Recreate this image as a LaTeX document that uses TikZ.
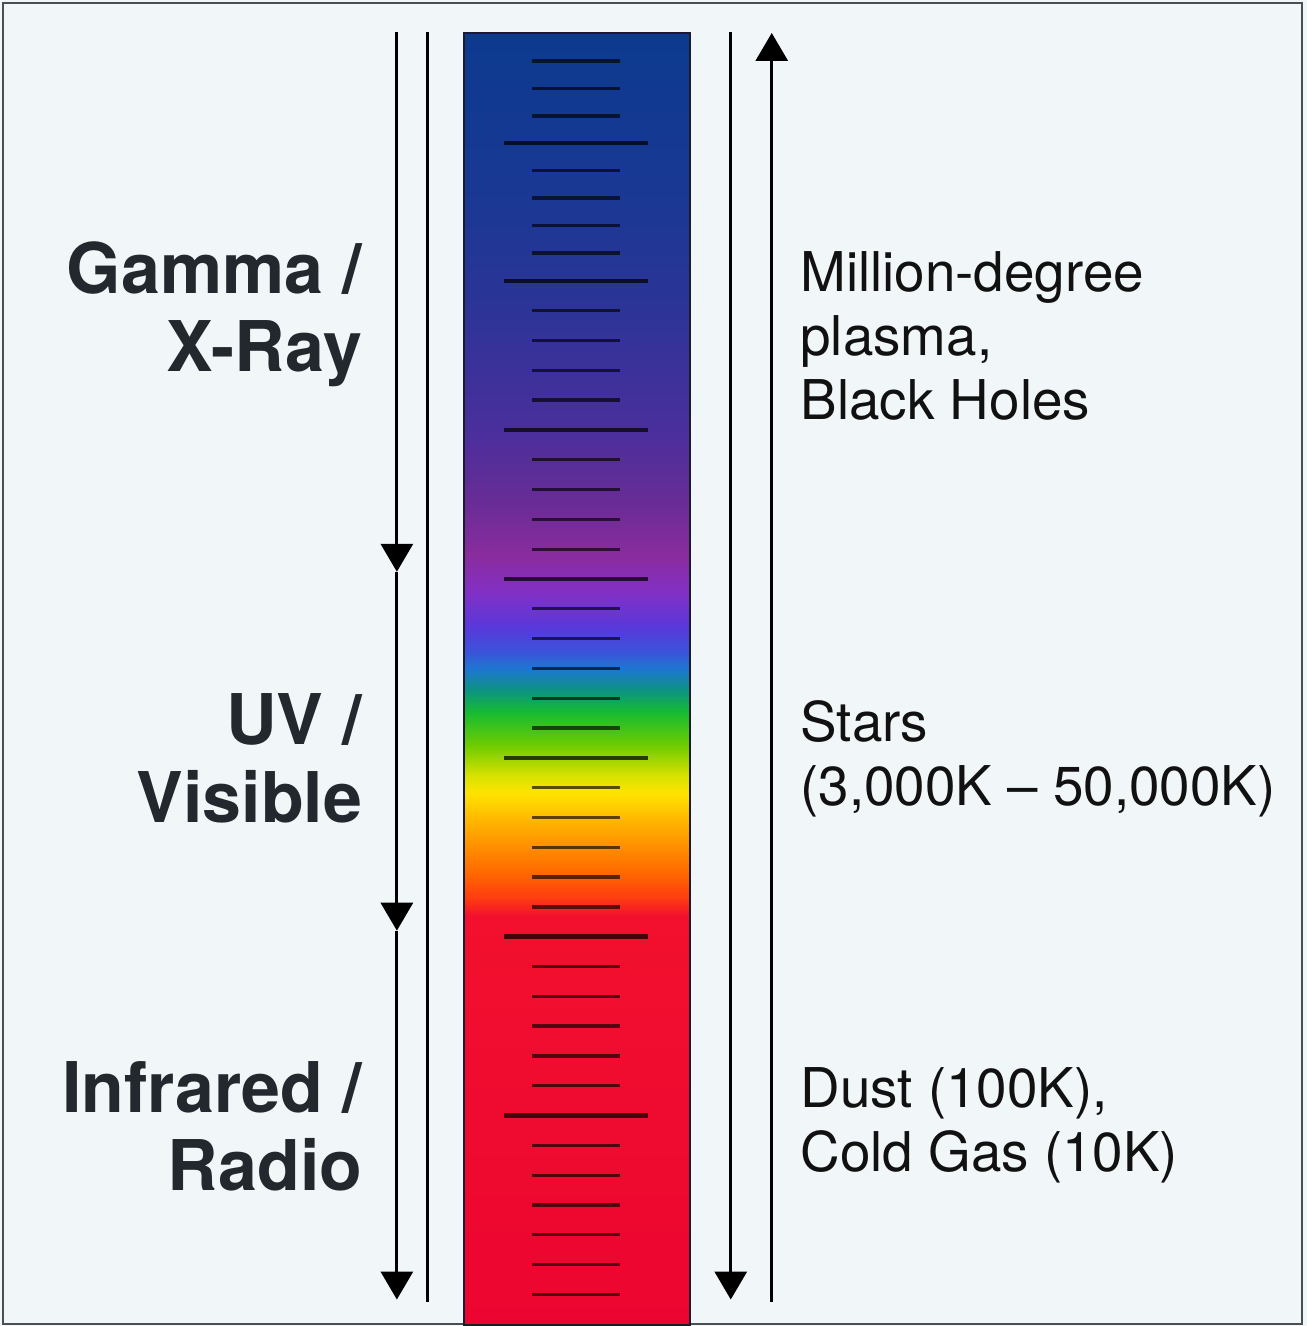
\documentclass[tikz,border=0pt]{standalone}
\usepackage{fontspec}
\setmainfont{TeX Gyre Heros}
\usetikzlibrary{arrows.meta, positioning}
\usepackage{xcolor}
\definecolor{PageBg}{HTML}{F1F6F8}
\definecolor{FrameGray}{HTML}{4A4F55}
\definecolor{LabelInk}{HTML}{23272E}
\definecolor{NoteInk}{HTML}{111111}
\definecolor{BarEdge}{HTML}{1B1B2E}
% spectrum stops, bottom (red) to top (blue)
\definecolor{specA}{HTML}{EC0530}
\definecolor{specB}{HTML}{F2102E}
\definecolor{specC}{HTML}{FF3C12}
\definecolor{specD}{HTML}{FF6800}
\definecolor{specE}{HTML}{FF9400}
\definecolor{specF}{HTML}{FFC200}
\definecolor{specG}{HTML}{FFE400}
\definecolor{specH}{HTML}{D8E200}
\definecolor{specI}{HTML}{70CC00}
\definecolor{specJ}{HTML}{18BC30}
\definecolor{specK}{HTML}{0C9480}
\definecolor{specL}{HTML}{1E76D0}
\definecolor{specM}{HTML}{3C52DA}
\definecolor{specN}{HTML}{5A38DA}
\definecolor{specO}{HTML}{8230C4}
\definecolor{specP}{HTML}{8A2C9E}
\definecolor{specQ}{HTML}{682C96}
\definecolor{specR}{HTML}{4A2F9C}
\definecolor{specS}{HTML}{2B3497}
\definecolor{specT}{HTML}{1A3894}
\definecolor{specU}{HTML}{0C3A8F}
\pgfdeclareverticalshading{spectrum}{100bp}{
    color(0bp)=(specA); color(25bp)=(specA); color(40.83bp)=(specB);
    color(41.52bp)=(specC); color(42.49bp)=(specD); color(43.65bp)=(specE);
    color(44.81bp)=(specF); color(45.59bp)=(specG); color(46.25bp)=(specH);
    color(47.41bp)=(specI); color(48.68bp)=(specJ); color(49.54bp)=(specK);
    color(50.39bp)=(specL); color(51.08bp)=(specM); color(52.05bp)=(specN);
    color(53.41bp)=(specO); color(54.76bp)=(specP); color(56.89bp)=(specQ);
    color(59.60bp)=(specR); color(64.63bp)=(specS); color(68.50bp)=(specT);
    color(75bp)=(specU); color(100bp)=(specU)}
\tikzset{
    % text styles
    bandlabel/.style={
        align=right,
        inner sep=0pt,
        text=LabelInk,
        font=\fontsize{19.9}{22.2}\selectfont\bfseries
    },
    sourcenote/.style={
        align=left,
        inner sep=0pt,
        text=NoteInk,
        font=\fontsize{15.6}{18.2}\selectfont
    },
    % line styles
    axisline/.style={
        line width=0.9pt,
        draw=black
    },
    axisarrow/.style={
        -{Triangle[length=0.28cm, width=0.32cm]},
        line width=0.9pt,
        draw=black
    },
    shorttick/.style={
        line width=0.95pt,
        draw=black,
        draw opacity=0.65
    },
    longtick/.style={
        line width=1.3pt,
        draw=black,
        draw opacity=0.72
    }
}
\begin{document}
\begin{tikzpicture}
    % page and frame
    \fill[PageBg] (0,0) rectangle (13.07,-13.26);
    \draw[FrameGray, line width=0.6pt] (0.03,-0.03) rectangle (13.02,-13.24);

    % spectrum bar
    \node[draw=BarEdge, line width=0.7pt, shading=spectrum,
          minimum width=2.26cm, minimum height=12.92cm, inner sep=0pt,
          anchor=north west] (bar) at (4.63,-0.32) {};

    \foreach \y in {0.61,0.885,1.16,1.705,1.98,2.255,2.53}
        \draw[shorttick] (5.32,-\y) -- (6.20,-\y);
    \foreach \y in {3.108,3.406,3.704,4.003,4.599,4.897,5.195,5.494,
                    6.090,6.388,6.686,6.985,7.283,7.879,8.177,8.476,8.774,9.072,
                    9.668,9.967,10.265,10.563,10.861,11.458,11.756,12.054,12.352,12.650,12.949}
        \draw[shorttick] (5.32,-\y) -- (6.20,-\y);
    \foreach \y in {1.43,2.81,4.301,5.792,7.581,9.370,11.159}
        \draw[longtick] (5.04,-\y) -- (6.48,-\y);

    % left axis: band arrows and plain rule
    \coordinate (gTop) at (3.97,-0.32);
    \coordinate (gEnd) at (3.97,-5.72);
    \coordinate (uEnd) at (3.97,-9.31);
    \coordinate (rEnd) at (3.97,-13.00);
    \coordinate (ruleTop) at (4.28,-0.32);
    \coordinate (ruleEnd) at (4.28,-13.02);
    \draw[axisarrow] (gTop) -- (gEnd);
    \draw[axisarrow] (gEnd) -- (uEnd);
    \draw[axisarrow] (uEnd) -- (rEnd);
    \draw[axisline] (ruleTop) -- (ruleEnd);

    % right axis: down and up arrows
    \coordinate (dTop) at (7.31,-0.32);
    \coordinate (dEnd) at (7.31,-13.00);
    \coordinate (uBot) at (7.72,-13.02);
    \coordinate (uTip) at (7.72,-0.33);
    \draw[axisarrow] (dTop) -- (dEnd);
    \draw[axisarrow] (uBot) -- (uTip);

    % band labels (base = last line)
    \node[bandlabel, anchor=base east] (gamma) at (3.63,-3.72) {Gamma /\\X-Ray};
    \node[bandlabel, anchor=base east] (uvvis) at (3.63,-8.23) {UV /\\Visible};
    \node[bandlabel, anchor=base east] (irradio) at (3.63,-11.91) {Infrared /\\Radio};

    % source notes
    \node[sourcenote, anchor=base west] (plasma) at (8.00,-4.20) {Million-degree\\plasma,\\Black Holes};
    \node[sourcenote, anchor=base west] (stars) at (8.00,-8.06) {Stars\\(3,000K – 50,000K)};
    \node[sourcenote, anchor=base west] (dust) at (8.00,-11.72) {Dust (100K),\\Cold Gas (10K)};
\end{tikzpicture}
\end{document}
